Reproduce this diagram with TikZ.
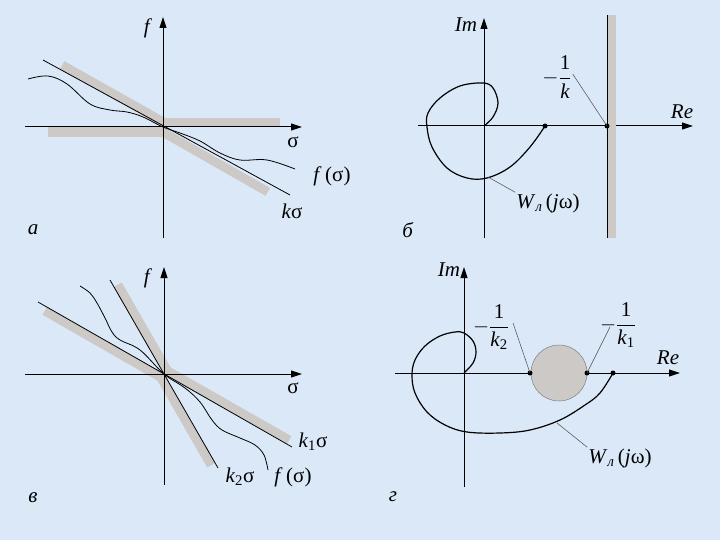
\documentclass[tikz,border=0pt]{standalone}
\usepackage{amsmath}
\usepackage{fontspec}
\setmainfont{Liberation Serif}
\usepackage{tikz}
\usetikzlibrary{arrows.meta,positioning}
\definecolor{bgblue}{RGB}{218,232,247}
\definecolor{bandgray}{RGB}{205,201,198}

\begin{document}
\begin{tikzpicture}[x=1pt, y=-1pt, >={Triangle[length=11pt,width=7pt]},
  axis/.style={->, line width=1pt},
  band/.style={line width=9pt, bandgray},
  curve/.style={line width=0.8pt},
  wcurve/.style={line width=1.2pt},
  leader/.style={gray!60!black, line width=0.5pt},
  dot/.style={circle, fill=black, inner sep=0pt, minimum size=5pt},
  lbl/.style={font=\fontsize{21}{24}\selectfont, inner sep=1pt}]
\fill[bgblue] (0,0) rectangle (720,540);
\path[use as bounding box] (0,0) rectangle (720,540);

% panel a
\coordinate (Oa) at (163,127);
\fill[bandgray] (163,118) rectangle (280,127);
\fill[bandgray] (48,127) rectangle (163,137);
\draw[band] ([shift={(2.2,-3.9)}]Oa) -- ([shift={(2.2,-3.9)}]60,69);
\draw[band] ([shift={(-2.2,3.9)}]Oa) -- ([shift={(-2.2,3.9)}]270,188);
\draw[axis] (25,127) -- (302,127);
\draw[axis] (163,238) -- (163,17);
\draw[curve] (43,60) -- (290,195);
\draw[curve] plot[smooth, tension=0.6] coordinates {(28,79) (48,76) (67,84) (90,104)
  (110,110) (127,112) (143,117) (163,127) (180,133) (200,141) (220,153) (240,160)
  (267,160) (295,169)};
\node[lbl] (fa) at (148,28) {\textit{f}};
\node[lbl] (sa) at (293,142) {σ};
\node[lbl] (fsa) at (332,176) {\textit{f}\,(σ)};
\node[lbl] (ka) at (292,211) {\textit{k}σ};
\node[lbl] (pa) at (33,230) {\textit{а}};

% panel b
\coordinate (Ob) at (484,126);
\draw[axis] (418,126) -- (693,126);
\draw[axis] (484,238) -- (484,18);
\fill[bandgray] (608,15) rectangle (616,238);
\draw[curve] (607,15) -- (607,238);
\draw[wcurve] plot[smooth, tension=0.6] coordinates {(Ob) (493,117) (498,103) (493,88)
  (483,83) (460,86) (440,98) (428,113) (427,127) (432,147) (447,168) (467,178)
  (487,178) (510,167) (530,147) (545,126)};
\node[dot] (Wb) at (545,126) {};
\node[dot] (Pb) at (607,126) {};
\node[lbl] (imb) at (466,25) {\textit{Im}};
\node[lbl] (reb) at (682,112) {\textit{Re}};
\node[lbl] (kb) at (557,77) {$-\dfrac{\text{1}}{\text{\itshape k}}$};
\draw[leader] (kb.east) ++(0,-3) coordinate (kbe) -- (Pb.center);
\node[lbl] (wb) at (548,203) {\textit{W}\textsubscript{\textit{л}}\,(\textit{j}ω)};
\coordinate (cb) at (488,177);
\draw[leader] (cb) -- (wb.north west);
\node[lbl] (pb) at (408,230) {\textit{б}};

% panel c
\coordinate (Oc) at (164,374);
\draw[band] ([shift={(-2.2,3.9)}]Oc) -- ([shift={(-2.2,3.9)}]47,307);
\draw[band] ([shift={(2.2,-3.9)}]Oc) -- ([shift={(2.2,-3.9)}]287,444);
\draw[band] ([shift={(3.9,-2.2)}]Oc) -- ([shift={(3.9,-2.2)}]114,287);
\draw[band] ([shift={(-3.9,2.2)}]Oc) -- ([shift={(-3.9,2.2)}]215,463);
\draw[axis] (25,374) -- (302,374);
\draw[axis] (164,485) -- (164,267);
\draw[curve] (38,302) -- (292,447);
\draw[curve] (110,280) -- (218,468);
\draw[curve] plot[smooth, tension=0.6] coordinates {(80,286) (90,293) (97,303) (105,318)
  (112,332) (120,340) (140,350) (164,374) (185,388) (200,402) (212,420) (222,430)
  (240,438) (255,445) (264,455) (268,470)};
\node[lbl] (fc) at (148,278) {\textit{f}};
\node[lbl] (sc) at (293,388) {σ};
\node[lbl] (k1c) at (313,442) {\textit{k}\textsubscript{1}σ};
\node[lbl] (k2c) at (240,477) {\textit{k}\textsubscript{2}σ};
\node[lbl] (fsc) at (293,477) {\textit{f}\,(σ)};
\node[lbl] (pc) at (33,498) {\textit{в}};

% panel d
\coordinate (Od) at (464,373);
\draw[axis] (395,373) -- (680,373);
\draw[axis] (464,487) -- (464,267);
\draw[gray, fill=bandgray, line width=0.5pt] (559,373) circle[radius=28];
\draw[wcurve] plot[smooth, tension=0.6] coordinates {(Od) (473,363) (476,352) (473,341)
  (464,333) (455,332) (440,336) (425,346) (415,360) (412,375) (415,393) (427,412)
  (445,425) (467,432) (500,433) (530,430) (560,420) (585,405) (600,393) (613,373)};
\node[dot] (P2d) at (530,373) {};
\node[dot] (P1d) at (587,373) {};
\node[dot] (Wd) at (613,373) {};
\node[lbl] (imd) at (449,270) {\textit{Im}};
\node[lbl] (red) at (668,358) {\textit{Re}};
\node[lbl] (k2d) at (491,327) {$-\dfrac{\text{1}}{\text{\itshape k}_{\text{2}}}$};
\node[lbl] (k1d) at (618,325) {$-\dfrac{\text{1}}{\text{\itshape k}_{\text{1}}}$};
\draw[leader] (513,323) -- (P2d.center);
\draw[leader] (610,327) -- (P1d.center);
\node[lbl] (wd) at (620,458) {\textit{W}\textsubscript{\textit{л}}\,(\textit{j}ω)};
\coordinate (cd) at (557,423);
\draw[leader] (cd) -- (wd.north west);
\node[lbl] (pd) at (393,497) {\textit{г}};
\end{tikzpicture}
\end{document}
